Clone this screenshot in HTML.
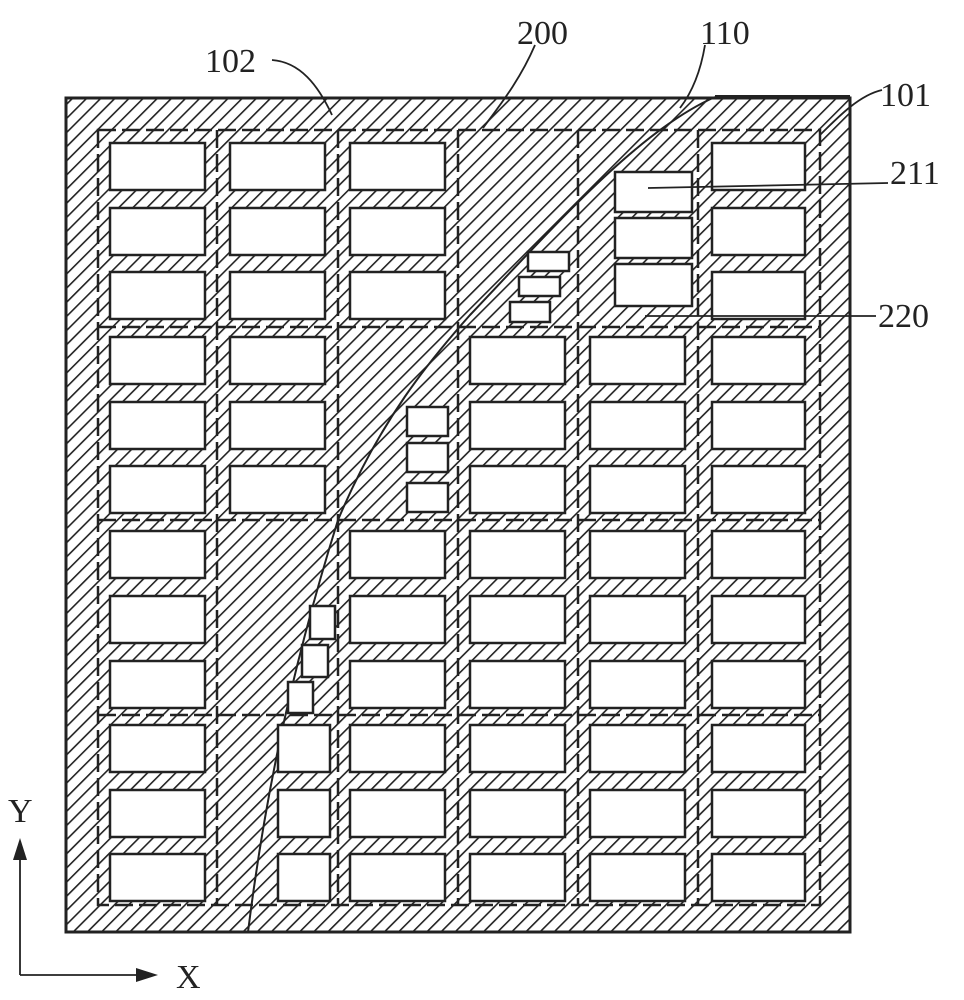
<!DOCTYPE html>
<html><head><style>html,body{margin:0;padding:0;background:#fff}svg{display:block}text{font-family:"Liberation Serif",serif;font-size:34px;fill:#222}</style></head>
<body>
<svg width="964" height="1000" viewBox="0 0 964 1000" xmlns="http://www.w3.org/2000/svg">
<defs>
<pattern id="h" patternUnits="userSpaceOnUse" width="10" height="10" patternTransform="rotate(45)">
<rect width="10" height="10" fill="#fff"/>
<line x1="0" y1="0" x2="0" y2="10" stroke="#222" stroke-width="3.2"/>
</pattern>
</defs>
<rect x="66" y="98" width="784" height="834" fill="url(#h)" stroke="#222" stroke-width="3"/>
<line x1="715" y1="97" x2="850" y2="97" stroke="#222" stroke-width="4"/>
<!-- dashed inner grid -->
<g stroke="#222" stroke-width="2.5" stroke-dasharray="18,6" fill="none">
<rect x="98" y="130" width="722" height="775"/>
<line x1="217" y1="130" x2="217" y2="905"/>
<line x1="338" y1="130" x2="338" y2="905"/>
<line x1="458" y1="130" x2="458" y2="905"/>
<line x1="578" y1="130" x2="578" y2="905"/>
<line x1="698" y1="130" x2="698" y2="905"/>
<line x1="98" y1="327" x2="820" y2="327"/>
<line x1="98" y1="520" x2="820" y2="520"/>
<line x1="98" y1="715" x2="820" y2="715"/>
</g>
<!-- curve 110 -->
<path d="M248,932 C262,820 285,690 338,520 C380,420 430,360 470,315 C560,220 640,130 715,97" fill="none" stroke="#222" stroke-width="2"/>
<g fill="#fff" stroke="#222" stroke-width="2.5">
<!-- col 0 -->
<rect x="110" y="143" width="95" height="47"/><rect x="110" y="208" width="95" height="47"/><rect x="110" y="272" width="95" height="47"/><rect x="110" y="337" width="95" height="47"/><rect x="110" y="402" width="95" height="47"/><rect x="110" y="466" width="95" height="47"/><rect x="110" y="531" width="95" height="47"/><rect x="110" y="596" width="95" height="47"/><rect x="110" y="661" width="95" height="47"/><rect x="110" y="725" width="95" height="47"/><rect x="110" y="790" width="95" height="47"/><rect x="110" y="854" width="95" height="47"/>
<!-- col 1 -->
<rect x="230" y="143" width="95" height="47"/><rect x="230" y="208" width="95" height="47"/><rect x="230" y="272" width="95" height="47"/><rect x="230" y="337" width="95" height="47"/><rect x="230" y="402" width="95" height="47"/><rect x="230" y="466" width="95" height="47"/>
<rect x="278" y="725" width="52" height="47"/><rect x="278" y="790" width="52" height="47"/><rect x="278" y="854" width="52" height="47"/>
<!-- col 2 -->
<rect x="350" y="143" width="95" height="47"/><rect x="350" y="208" width="95" height="47"/><rect x="350" y="272" width="95" height="47"/>
<rect x="350" y="531" width="95" height="47"/><rect x="350" y="596" width="95" height="47"/><rect x="350" y="661" width="95" height="47"/><rect x="350" y="725" width="95" height="47"/><rect x="350" y="790" width="95" height="47"/><rect x="350" y="854" width="95" height="47"/>
<!-- col 3 -->
<rect x="470" y="337" width="95" height="47"/><rect x="470" y="402" width="95" height="47"/><rect x="470" y="466" width="95" height="47"/><rect x="470" y="531" width="95" height="47"/><rect x="470" y="596" width="95" height="47"/><rect x="470" y="661" width="95" height="47"/><rect x="470" y="725" width="95" height="47"/><rect x="470" y="790" width="95" height="47"/><rect x="470" y="854" width="95" height="47"/>
<!-- col 4 -->
<rect x="590" y="337" width="95" height="47"/><rect x="590" y="402" width="95" height="47"/><rect x="590" y="466" width="95" height="47"/><rect x="590" y="531" width="95" height="47"/><rect x="590" y="596" width="95" height="47"/><rect x="590" y="661" width="95" height="47"/><rect x="590" y="725" width="95" height="47"/><rect x="590" y="790" width="95" height="47"/><rect x="590" y="854" width="95" height="47"/>
<!-- col 5 -->
<rect x="712" y="143" width="93" height="47"/><rect x="712" y="208" width="93" height="47"/><rect x="712" y="272" width="93" height="47"/><rect x="712" y="337" width="93" height="47"/><rect x="712" y="402" width="93" height="47"/><rect x="712" y="466" width="93" height="47"/><rect x="712" y="531" width="93" height="47"/><rect x="712" y="596" width="93" height="47"/><rect x="712" y="661" width="93" height="47"/><rect x="712" y="725" width="93" height="47"/><rect x="712" y="790" width="93" height="47"/><rect x="712" y="854" width="93" height="47"/>
<!-- special -->
<rect x="615" y="172" width="77" height="40"/><rect x="615" y="218" width="77" height="40"/><rect x="615" y="264" width="77" height="42"/>
<rect x="528" y="252" width="41" height="19"/><rect x="519" y="277" width="41" height="19"/><rect x="510" y="302" width="40" height="20"/>
<rect x="407" y="407" width="41" height="29"/><rect x="407" y="443" width="41" height="29"/><rect x="407" y="483" width="41" height="29"/>
<rect x="310" y="606" width="25" height="33"/><rect x="302" y="645" width="26" height="32"/><rect x="288" y="682" width="25" height="31"/>
</g>
<!-- leaders -->
<g fill="none" stroke="#222" stroke-width="1.8">
<path d="M272,60 C300,62 318,85 332,115"/>
<path d="M535,45 C520,80 500,105 483,128"/>
<path d="M705,45 C700,75 690,95 680,108"/>
<path d="M882,90 C860,95 840,115 820,135"/>
<path d="M888,183 L648,188"/>
<path d="M876,316 L645,316"/>
<line x1="20" y1="975" x2="20" y2="855"/>
<line x1="20" y1="975" x2="140" y2="975"/>
</g>
<polygon points="20,838 13,860 27,860" fill="#222"/>
<polygon points="158,975 136,968 136,982" fill="#222"/>
<text x="205" y="72">102</text>
<text x="517" y="44">200</text>
<text x="700" y="44">110</text>
<text x="880" y="106">101</text>
<text x="890" y="184">211</text>
<text x="878" y="327">220</text>
<text x="8" y="822">Y</text>
<text x="176" y="988">X</text>
</svg>
</body></html>
